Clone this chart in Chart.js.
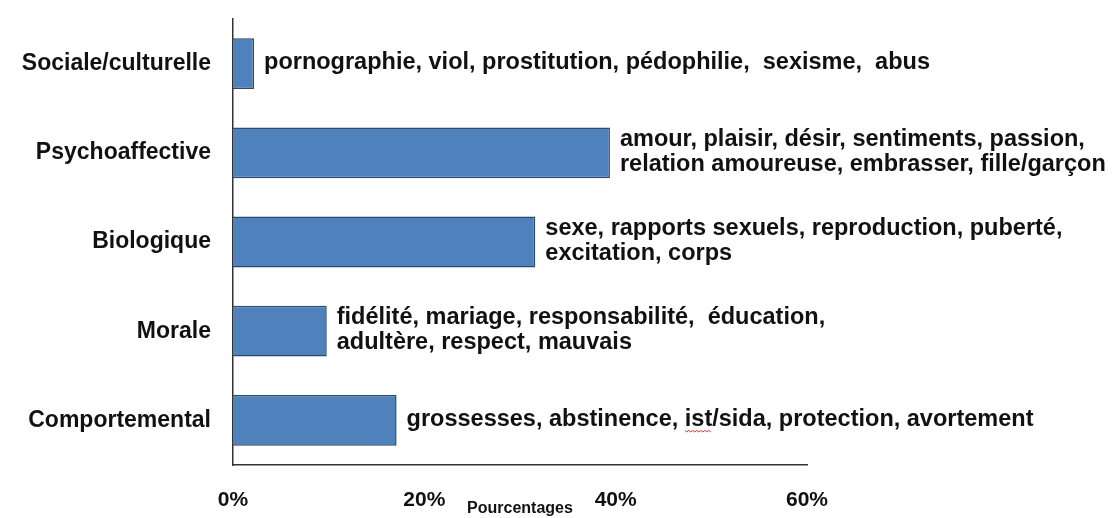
<!DOCTYPE html>
<html>
<head>
<meta charset="utf-8">
<script src="https://cdn.jsdelivr.net/npm/chart.js@4.4.1/dist/chart.umd.min.js"></script>
<style>
  html, body { margin: 0; padding: 0; background: #ffffff; }
  #wrap { width: 1120px; height: 518px; position: relative; }
</style>
</head>
<body>
<div id="wrap"><canvas id="c"></canvas></div>
<script>
const categories = ["Sociale/culturelle", "Psychoaffective", "Biologique", "Morale", "Comportemental"];
const percentages = [2.2, 39.4, 31.6, 9.8, 17.1];
const xTicks = [0, 20, 40, 60];
const axisTitle = "Pourcentages";
const annotations = [
  ["pornographie, viol, prostitution, pédophilie,  sexisme,  abus"],
  ["amour, plaisir, désir, sentiments, passion,", "relation amoureuse, embrasser, fille/garçon"],
  ["sexe, rapports sexuels, reproduction, puberté,", "excitation, corps"],
  ["fidélité, mariage, responsabilité,  éducation,", "adultère, respect, mauvais"],
  ["grossesses, abstinence, ist/sida, protection, avortement"]
];

const FONT = '"Liberation Sans", Arial, sans-serif';

const annotationPlugin = {
  id: 'annot',
  afterDatasetsDraw(chart) {
    const ctx = chart.ctx;
    const meta = chart.getDatasetMeta(0);
    ctx.save();
    ctx.font = 'bold 23.5px ' + FONT;
    ctx.fillStyle = '#111111';
    ctx.textAlign = 'left';
    ctx.textBaseline = 'middle';
    const pitch = 25;
    meta.data.forEach((bar, i) => {
      const lines = annotations[i];
      const x = bar.x + 10;
      const y0 = bar.y - (lines.length - 1) * pitch / 2 - 1;
      lines.forEach((t, j) => {
        const y = y0 + j * pitch;
        ctx.fillText(t, x, y);
        const k = t.indexOf('ist/sida');
        if (k >= 0) {
          const sx = x + ctx.measureText(t.slice(0, k)).width;
          const w = ctx.measureText('ist').width;
          ctx.save();
          ctx.strokeStyle = '#d03030';
          ctx.lineWidth = 1;
          ctx.beginPath();
          let up = true;
          for (let px = 0; px <= w; px += 2) {
            const py = y + 11 + (up ? 0 : 1.5);
            if (px === 0) ctx.moveTo(sx + px, py); else ctx.lineTo(sx + px, py);
            up = !up;
          }
          ctx.stroke();
          ctx.restore();
        }
      });
    });
    // axis title, centred under the x axis
    const xs = chart.scales.x;
    ctx.font = 'bold 16px ' + FONT;
    ctx.textAlign = 'center';
    ctx.fillStyle = '#111111';
    ctx.fillText(axisTitle, (xs.left + xs.right) / 2, 509);
    ctx.restore();
  }
};

new Chart(document.getElementById('c'), {
  type: 'bar',
  data: {
    labels: categories,
    datasets: [{
      data: percentages,
      backgroundColor: '#4F81BD',
      borderColor: '#2B4A6F',
      borderWidth: 1.5,
      categoryPercentage: 1,
      barPercentage: 0.57
    }]
  },
  options: {
    indexAxis: 'y',
    responsive: true,
    maintainAspectRatio: false,
    animation: false,
    events: [],
    layout: { padding: { top: 19, right: 313, bottom: 0, left: 0 } },
    plugins: { legend: { display: false }, tooltip: { enabled: false } },
    scales: {
      x: {
        min: 0, max: 60,
        afterBuildTicks(scale) { scale.ticks = xTicks.map(v => ({ value: v })); },
        afterFit(scale) { scale.height = 53; scale.paddingLeft = 0; scale.paddingRight = 0; },
        grid: { display: false, drawTicks: false },
        border: { display: true, color: '#333333', width: 1.5 },
        ticks: {
          padding: 23,
          color: '#111111',
          font: { family: FONT, size: 21, weight: 'bold' },
          callback: v => v + '%'
        }
      },
      y: {
        afterFit(scale) { scale.width = 233; scale.paddingTop = 0; scale.paddingBottom = 0; },
        grid: { display: false, drawTicks: false },
        border: { display: true, color: '#333333', width: 1.5 },
        ticks: {
          padding: 22,
          color: '#111111',
          font: { family: FONT, size: 23, weight: 'bold' }
        }
      }
    }
  },
  plugins: [annotationPlugin]
});
</script>
</body>
</html>
